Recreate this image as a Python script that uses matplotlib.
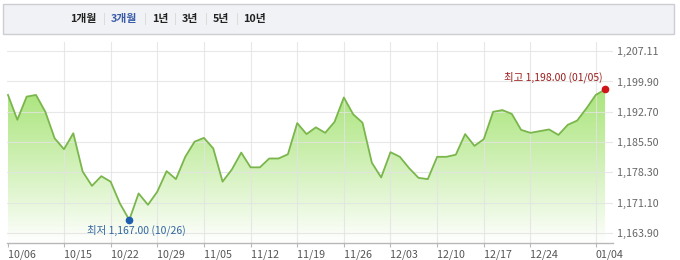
import numpy as np
import matplotlib
matplotlib.use("Agg")
import matplotlib.pyplot as plt
from matplotlib.patches import Rectangle
import matplotlib.colors as mcolors

plt.rcParams['font.family'] = ['Noto Sans CJK KR', 'DejaVu Sans']

# ---- data ----
values = [1196.7, 1190.8, 1196.3, 1196.7, 1192.7, 1186.4, 1183.8, 1187.6, 1178.5, 1175.1,
          1177.4, 1176.1, 1170.9, 1167.0, 1173.3, 1170.6, 1173.7, 1178.6, 1176.7, 1182.0,
          1185.6, 1186.5, 1184.0, 1176.1, 1179.0, 1183.0, 1179.5, 1179.5, 1181.6, 1181.6,
          1182.6, 1190.0, 1187.4, 1189.0, 1187.7, 1190.3, 1196.1, 1192.1, 1190.1, 1180.6,
          1177.1, 1183.1, 1182.0, 1179.3, 1177.0, 1176.7, 1182.0, 1182.0, 1182.5, 1187.4,
          1184.6, 1186.2, 1192.7, 1193.1, 1192.2, 1188.4, 1187.7, 1188.1, 1188.5, 1187.2,
          1189.6, 1190.6, 1193.5, 1196.7, 1198.0]
tick_idx = [0, 6, 11, 16, 21, 26, 31, 36, 41, 46, 51, 56, 63]
tick_labels = ['10/06', '10/15', '10/22', '10/29', '11/05', '11/12', '11/19',
               '11/26', '12/03', '12/10', '12/17', '12/24', '01/04']
ytick_vals = [1163.90, 1171.10, 1178.30, 1185.50, 1192.70, 1199.90, 1207.11]
ytick_labels = ['1,163.90', '1,171.10', '1,178.30', '1,185.50', '1,192.70', '1,199.90', '1,207.11']
tabs = ['1개월', '3개월', '1년', '3년', '5년', '10년']
active_tab = '3개월'
max_label = '최고 1,198.00 (01/05)'
min_label = '최저 1,167.00 (10/26)'

W, H = 680, 260
fig = plt.figure(figsize=(W / 100, H / 100), dpi=100)
fig.patch.set_facecolor('white')

def fx(px):
    return px / W

def fy(py):
    return 1 - py / H

# ---- tab bar ----
fig.add_artist(Rectangle((fx(3), fy(34)), fx(671), 30 / H, transform=fig.transFigure,
                         facecolor='#f1f2f5', edgecolor='#cdced3', lw=1.0))
tab_x = [83, 124, 160, 190, 221, 254]
sep_x = [104, 145, 175, 206, 237]
for t, x in zip(tabs, tab_x):
    fig.text(fx(x), fy(19), t, ha='center', va='center', fontsize=7.8, fontweight='bold',
             color='#3a5ca8' if t == active_tab else '#222222')
for x in sep_x:
    fig.text(fx(x), fy(19), '|', ha='center', va='center', fontsize=7, color='#d0d0d0')

# ---- plot ----
ax = fig.add_axes([fx(7), fy(243), 606 / W, 201 / H])
x = np.arange(len(values))
v = np.array(values)
x0 = -0.107
x1 = 64.85
ylo, yhi = 1161.52, 1209.28
ax.set_xlim(x0, x1)
ax.set_ylim(ylo, yhi)

# gradient fill
poly = ax.fill_between(x, v, ylo, facecolor='none', edgecolor='none')
top_c = np.array(mcolors.to_rgb('#a8e478'))
bot_c = np.array(mcolors.to_rgb('#ffffff'))
n = 256
t = np.linspace(0, 1, n)[:, None]
t = t ** 1.15
grad = top_c * (1 - t) + bot_c * t
img = np.repeat(grad[:, None, :], 2, axis=1)
im = ax.imshow(img, extent=[x0, x1, ylo, 1200.5], aspect='auto', origin='upper', zorder=1)
path = poly.get_paths()[0]
im.set_clip_path(path, transform=ax.transData)

# grid
for yv in ytick_vals:
    ax.axhline(yv, color='#e3e3e3', lw=0.8, zorder=2, alpha=0.8)
for ti in tick_idx[1:]:
    ax.axvline(ti, color='#e3e3e3', lw=0.8, zorder=2, alpha=0.8)

ax.plot(x, v, color='#7ab64c', lw=1.3, zorder=3, solid_joinstyle='round')

# min / max markers
imax = int(np.argmax(v))
imin = int(np.argmin(v))
ax.plot(imax, v[imax], 'o', color='#d0141a', ms=4.5, zorder=5, clip_on=False)
ax.plot(imin, v[imin], 'o', color='#1f5fb0', ms=4.5, zorder=5, clip_on=False)
ax.annotate(max_label, xy=(imax, v[imax]), xytext=(-2, 12), textcoords='offset pixels',
            ha='right', va='center', fontsize=7.5, color='#9b1c1c')
ax.annotate(min_label, xy=(imin, v[imin]), xytext=(7, -10), textcoords='offset pixels',
            ha='center', va='center', fontsize=7.5, color='#3366a0')

# axes styling
for s in ['top', 'right', 'left']:
    ax.spines[s].set_visible(False)
ax.spines['bottom'].set_color('#b8b8b8')
ax.spines['bottom'].set_linewidth(1.0)
ax.set_xticks(tick_idx)
ax.set_xticklabels(tick_labels, fontsize=7.7, color='#555555')
for lbl in ax.get_xticklabels():
    lbl.set_horizontalalignment('left')
ax.tick_params(axis='x', length=3, color='#b8b8b8', pad=2)
ax.yaxis.tick_right()
ax.set_yticks(ytick_vals)
ax.set_yticklabels(ytick_labels, fontsize=7.7, color='#666666')
ax.tick_params(axis='y', length=0, pad=3)
ax.set_facecolor('white')

fig.savefig('out.png', dpi=100)
